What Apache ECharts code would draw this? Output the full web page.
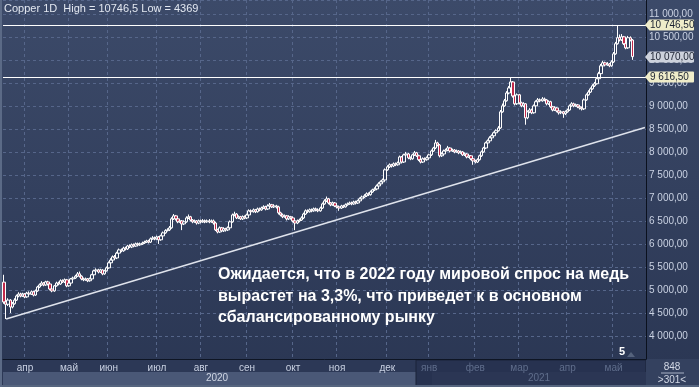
<!DOCTYPE html>
<html>
<head>
<meta charset="utf-8">
<script src="https://cdn.jsdelivr.net/npm/echarts@6/dist/echarts.min.js"></script>
<style>
html,body{margin:0;padding:0;background:#2c3855;}
#c{width:699px;height:387px;}
</style>
</head>
<body>
<div id="c"></div>
<script>
// ---- data (LME copper, daily, 301 bars) ----
const firstOpen = 5170;
const closes = [4740,4690,4780,4630,4700,4780,4870,4910,4870,4910,4850,4930,4910,4960,4890,4980,5065,5110,5150,5110,
5175,5130,5020,4980,5090,5150,5130,5200,5175,5220,5090,5150,5240,5260,5300,5350,5300,5240,5220,5240,
5200,5240,5330,5415,5435,5390,5435,5350,5415,5480,5590,5650,5720,5695,5800,5870,5850,5910,5890,5955,
5935,5980,5955,6000,5980,6000,6020,6040,6065,6040,6110,6130,6110,6150,6090,6175,6240,6290,6305,6350,
6545,6610,6545,6480,6500,6435,6480,6565,6590,6520,6480,6500,6455,6500,6480,6500,6480,6500,6480,6500,
6455,6305,6260,6350,6285,6330,6305,6350,6480,6630,6650,6565,6590,6545,6590,6565,6630,6720,6700,6740,
6700,6760,6740,6780,6805,6760,6825,6850,6805,6825,6805,6675,6630,6590,6610,6545,6590,6565,6500,6455,
6500,6520,6565,6650,6720,6700,6740,6720,6760,6740,6720,6780,6870,6935,6980,6890,6850,6890,6825,6805,
6780,6825,6805,6850,6870,6890,6870,6910,6890,6935,6980,7020,7045,7090,7070,7130,7175,7195,7260,7305,
7350,7390,7610,7675,7720,7695,7740,7720,7760,7890,7780,7935,7955,7870,7850,7935,7980,7915,7830,7780,
7850,7830,7870,7935,8020,8085,8195,8150,7915,7955,8020,8040,8085,8020,8040,8000,8020,7980,8000,7935,
7955,7890,7915,7850,7805,7780,7830,7915,8000,8085,8195,8240,8305,8350,8415,8460,8520,8870,9000,9110,
9280,9390,9520,9215,9045,9240,9065,9000,9045,8740,8870,8910,8850,9000,9090,9130,9110,9150,9130,9045,
9090,8980,8910,8955,8890,8850,8870,8830,8870,8910,9000,9045,9000,9020,8980,8955,8935,9130,9240,9300,
9370,9435,9480,9590,9700,9870,9935,9890,9910,9870,9955,10130,10350,10480,10435,10500,10350,10260,10480,10430,
10070];
const highs = [5330,4790,4820,4800,4740,4820,4900,4950,4940,4940,4930,4960,4970,4990,4980,5010,5090,5140,5190,5170,
5200,5200,5150,5040,5110,5180,5180,5230,5230,5250,5240,5170,5260,5290,5330,5390,5400,5320,5270,5270,
5260,5270,5350,5440,5470,5460,5460,5450,5440,5510,5620,5690,5750,5760,5830,5900,5900,5940,5940,5980,
5990,6010,6010,6030,6030,6030,6050,6070,6090,6090,6140,6170,6160,6180,6170,6200,6270,6320,6340,6390,
6580,6650,6630,6560,6540,6520,6510,6600,6640,6610,6540,6530,6520,6530,6530,6540,6530,6530,6540,6530,
6530,6480,6330,6380,6370,6360,6350,6380,6510,6660,6700,6670,6620,6610,6620,6620,6660,6750,6750,6770,
6760,6790,6790,6810,6840,6830,6860,6890,6870,6860,6850,6830,6700,6660,6640,6630,6620,6610,6590,6530,
6530,6550,6600,6680,6750,6750,6770,6770,6790,6790,6770,6810,6900,6970,7030,7000,6910,6920,6910,6850,
6830,6850,6850,6880,6900,6920,6920,6940,6940,6960,7010,7050,7080,7120,7120,7160,7200,7230,7290,7340,
7380,7420,7640,7710,7750,7740,7770,7770,7790,7920,7910,7960,8000,7980,7900,7960,8020,8000,7940,7850,
7880,7880,7900,7960,8050,8110,8260,8220,8170,7990,8050,8070,8130,8100,8070,8060,8050,8040,8030,8020,
7990,7970,7950,7930,7870,7830,7860,7940,8030,8110,8220,8270,8340,8380,8440,8490,8560,8910,9050,9150,
9320,9430,9616.5,9540,9240,9270,9260,9090,9080,9060,8900,8950,8940,9030,9120,9170,9160,9190,9180,9150,
9120,9110,9000,8990,8970,8910,8900,8890,8900,8940,9030,9080,9070,9050,9040,9000,8970,9160,9270,9340,
9400,9470,9520,9620,9740,9910,9980,9960,9950,9930,9990,10170,10390,10746.5,10550,10560,10520,10380,10520,10510,
10450];
const lows = [4700,4369,4650,4500,4600,4680,4760,4840,4840,4850,4820,4830,4880,4890,4860,4870,4960,5040,5090,5080,
5090,5100,4990,4950,4960,5070,5100,5110,5150,5150,5060,5070,5130,5220,5240,5280,5270,5210,5190,5200,
5170,5180,5220,5310,5390,5360,5370,5320,5330,5400,5460,5570,5630,5660,5670,5780,5820,5830,5860,5870,
5910,5910,5930,5940,5950,5960,5980,6000,6020,6010,6020,6090,6080,6090,6000,6070,6150,6220,6270,6280,
6330,6520,6510,6450,6460,6300,6410,6460,6540,6490,6450,6460,6420,6430,6450,6460,6450,6460,6450,6460,
6420,6280,6230,6240,6260,6260,6270,6280,6330,6460,6600,6540,6540,6520,6520,6540,6540,6610,6670,6680,
6670,6680,6710,6720,6760,6730,6740,6800,6780,6780,6770,6640,6600,6560,6570,6510,6520,6530,6470,6300,
6430,6470,6500,6540,6630,6670,6680,6690,6700,6710,6690,6700,6760,6850,6910,6860,6820,6830,6800,6770,
6720,6760,6780,6790,6830,6850,6840,6850,6860,6870,6910,6960,7000,7020,7040,7050,7110,7150,7170,7240,
7280,7330,7370,7590,7650,7660,7670,7690,7700,7740,7750,7760,7910,7840,7820,7830,7910,7890,7800,7750,
7760,7800,7810,7850,7910,8000,8060,8120,7880,7890,7930,8000,8020,7990,8000,7970,7980,7950,7960,7910,
7910,7860,7870,7820,7720,7750,7760,7810,7890,7980,8060,8170,8220,8280,8330,8390,8440,8500,8850,8980,
9090,9250,9370,9180,9010,9020,9030,8970,8970,8590,8710,8840,8820,8830,8980,9060,9080,9090,9100,9010,
9020,8950,8880,8890,8860,8810,8820,8740,8800,8850,8890,8980,8970,8980,8950,8920,8900,8910,9110,9220,
9280,9350,9410,9460,9570,9680,9850,9860,9870,9840,9850,9930,10110,10330,10400,10410,10320,10230,10240,10400,
10000];
const padBars = 6;
const monthIdx   = [10,31,50,73,94,116,138,159,183,203,225,246,269,291];
const monthNames = ['апр','май','июн','июл','авг','сен','окт','ноя','дек','янв','фев','мар','апр','май'];
const firstIdx2021 = 203;
const yearNames = ['2020','2021'];
const levelHigh = 10746.5;
const levelLow = 9616.5;
const lastClose = 10070;
const trendStart = [1, 4369];
const trendEnd = [306, 8530];
const headerText = 'Copper 1D  High = 10746,5 Low = 4369';
const noteLines = ['Ожидается, что в 2022 году мировой спрос на медь','вырастет на 3,3%, что приведет к в основном','сбалансированному рынку'];

// ---- build ----
const n = closes.length;
const cats = [];
for (let i = 0; i < n + padBars; i++) cats.push(String(i));
const ohlc = closes.map((c, i) => [i === 0 ? firstOpen : closes[i - 1], c, lows[i], highs[i]]);
function fmt(v) {
  const s = Number(v).toFixed(2).split('.');
  return s[0].replace(/\B(?=(\d{3})+(?!\d))/g, ' ') + ',' + s[1];
}
const isMonth = (i) => monthIdx.indexOf(i) >= 0;

const chart = echarts.init(document.getElementById('c'), null, {renderer: 'canvas'});
const FONT = 'Liberation Sans';
const tagColors = {hi: '#efecc9', last: '#cdd2dc'};

const baseGraphics = [
  {type: 'rect', z: -10, shape: {x: 0, y: 359, width: 699, height: 28}, style: {fill: '#2c3856'}},
  {type: 'rect', z: -9, shape: {x: 3, y: 372, width: 429, height: 13}, style: {fill: '#4a5877'}},
  {type: 'rect', z: -9, shape: {x: 416, y: 360, width: 230, height: 26}, style: {fill: '#273250', stroke: '#1a2238', lineWidth: 1}},
  {type: 'rect', z: -8, shape: {x: 432, y: 372, width: 214, height: 13}, style: {fill: '#2b3654'}},
  {type: 'rect', z: -9, shape: {x: 646, y: 359, width: 53, height: 28}, style: {fill: '#34415f'}},
  {type: 'rect', z: -9, shape: {x: 0, y: 385, width: 699, height: 2}, style: {fill: '#56657f'}},
  {type: 'rect', z: 5, shape: {x: 0, y: 0, width: 2, height: 387}, style: {fill: '#5b6a86'}},
  {type: 'text', z: 10, x: 217, y: 378, style: {text: yearNames[0], fill: '#cfd6e4', font: '10px ' + FONT, textAlign: 'center', textVerticalAlign: 'middle'}},
  {type: 'text', z: 10, x: 539, y: 378, style: {text: yearNames[1], fill: '#5f6d8b', font: '10px ' + FONT, textAlign: 'center', textVerticalAlign: 'middle'}},
  {type: 'text', z: 10, x: 672, y: 367, style: {text: '848', fill: '#d3d9e6', font: '10px ' + FONT, textAlign: 'center', textVerticalAlign: 'middle'}},
  {type: 'line', z: 10, shape: {x1: 661, y1: 373, x2: 684, y2: 373}, style: {stroke: '#a8b2c6', lineWidth: 1}},
  {type: 'text', z: 10, x: 672, y: 380, style: {text: '>301<', fill: '#d3d9e6', font: '10px ' + FONT, textAlign: 'center', textVerticalAlign: 'middle'}},
  {type: 'text', z: 10, x: 619, y: 346, style: {text: '5', fill: '#ffffff', font: 'bold 11px ' + FONT}},
  {type: 'polygon', z: 10, shape: {points: [[627, 357], [635, 357], [631, 352]]}, style: {fill: '#55627c'}},
  {type: 'text', z: 10, x: 4, y: 3, style: {text: headerText, fill: '#e3e8f1', font: '11px ' + FONT}},
  {type: 'text', z: 30, x: 218, y: 264, style: {text: noteLines.join('\n'), fill: '#ffffff', font: 'bold 16px ' + FONT, lineHeight: 21.5}}
];

chart.setOption({
  animation: false,
  backgroundColor: {type: 'linear', x: 0, y: 0, x2: 0, y2: 1,
    colorStops: [{offset: 0, color: '#3c4a69'}, {offset: 1, color: '#2a3653'}]},
  grid: {left: 3, right: 53, top: 0, bottom: 28},
  xAxis: {
    type: 'category', data: cats, boundaryGap: true,
    axisLine: {show: true, lineStyle: {color: '#0e1524', width: 1}},
    axisTick: {show: false},
    axisLabel: {
      interval: (i) => isMonth(i), margin: 4, fontFamily: FONT, fontSize: 10,
      formatter: (v) => { const k = monthIdx.indexOf(Number(v)); return k >= 0 ? monthNames[k] : ''; },
      color: (v) => Number(v) >= firstIdx2021 ? '#5f6d8b' : '#c9d1e2'
    },
    splitLine: {show: true, interval: (i) => isMonth(i), lineStyle: {color: '#56668a', type: [3, 3], width: 1}}
  },
  yAxis: {
    type: 'value', position: 'right', min: 3500, max: 11300, interval: 500, scale: true,
    axisLine: {show: true, lineStyle: {color: '#0b111e', width: 1}},
    axisTick: {show: false},
    axisLabel: {margin: 3, fontFamily: FONT, fontSize: 10, color: '#c9d1e2',
      showMinLabel: false, showMaxLabel: false, formatter: (v) => fmt(v)},
    splitLine: {show: true, lineStyle: {color: '#56668a', type: [3, 3], width: 1}}
  },
  series: [{
    type: 'candlestick', data: ohlc, barWidth: 3,
    itemStyle: {color: '#34415f', color0: '#c2294a', borderColor: '#ffffff', borderColor0: '#ffffff', borderWidth: 1},
    markLine: {
      symbol: 'none', silent: true, z: 20, label: {show: false},
      data: [
        {yAxis: levelHigh, lineStyle: {color: '#ffffff', width: 1.2, type: 'solid'}},
        {yAxis: levelLow, lineStyle: {color: '#ffffff', width: 1.2, type: 'solid'}},
        [{coord: trendStart, lineStyle: {color: '#dfe3ec', width: 1.5, type: 'solid'}},
         {coord: trendEnd}]
      ]
    }
  }],
  graphic: baseGraphics
});

// price tags on the right axis, placed through the y scale
const tagDefs = [[levelHigh, tagColors.hi], [lastClose, tagColors.last], [levelLow, tagColors.hi]];
const tags = [];
tagDefs.forEach(([v, col]) => {
  const y = Math.round(chart.convertToPixel({yAxisIndex: 0}, v));
  tags.push({type: 'rect', z: 50, shape: {x: 649, y: y - 5.5, width: 45, height: 11, r: 1}, style: {fill: col}});
  tags.push({type: 'polygon', z: 50, shape: {points: [[645, y], [649.5, y - 5.5], [649.5, y + 5.5]]}, style: {fill: col}});
  tags.push({type: 'text', z: 51, x: 650, y: y + 0.5, style: {text: fmt(v), fill: '#1b2231', font: '10px ' + FONT, textVerticalAlign: 'middle'}});
});
chart.setOption({graphic: baseGraphics.concat(tags)});
</script>
</body>
</html>
